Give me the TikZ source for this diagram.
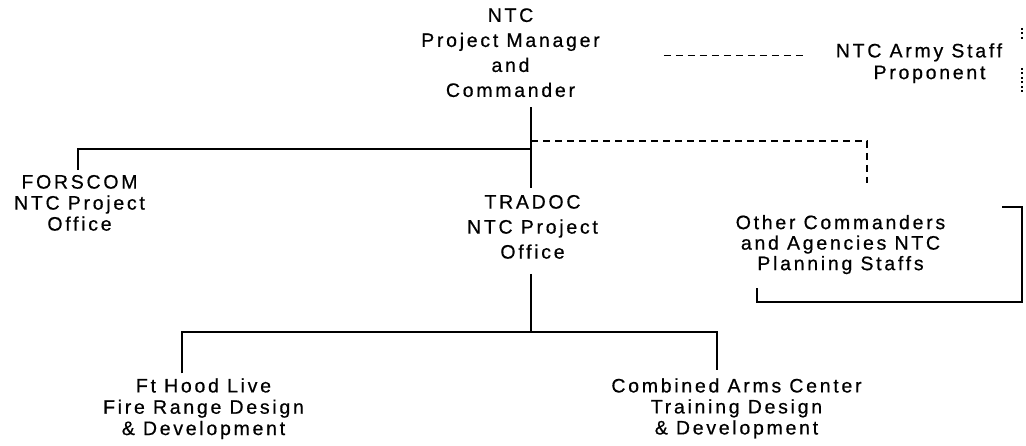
\documentclass[tikz,border=0pt]{standalone}
\usepackage{fontspec}
\newfontfamily\orgfont{Liberation Sans}[LetterSpace=14,FakeBold=0.6]
\usetikzlibrary{calc}
\begin{document}
\begin{tikzpicture}[x=1pt,y=-1pt,
  lbl/.style={font=\orgfont\fontsize{19.5}{#1}\selectfont, align=center, inner sep=0pt, outer sep=0pt, anchor=north},
  solidline/.style={line width=1.8pt},
  dashline/.style={line width=1.4pt, dash pattern=on 7pt off 5pt},
  dotline/.style={line width=1.2pt, dash pattern=on 2pt off 2.5pt},
]
\fill[white] (0,0) rectangle (1026,446);
\useasboundingbox (0,0) rectangle (1026,446);

% nodes
\node[lbl=25] (top) at (510.5,8.3) {NTC\\Project Manager\\and\\Commander};
\node[lbl=25] (tradoc) at (532.5,195) {TRADOC\\NTC Project\\Office};
\node[lbl=21] (forscom) at (79.5,175) {FORSCOM\\NTC Project\\Office};
\node[lbl=20.5] (other) at (840.5,215) {Other Commanders\\and Agencies NTC\\Planning Staffs};
\node[lbl=21.7] (staff) at (919,43.3) {NTC Army Staff\\\hspace*{21pt}Proponent};
\node[lbl=21.3] (fthood) at (203.5,378.3) {Ft Hood Live\\Fire Range Design\\\& Development};
\node[lbl=21] (cac) at (736.5,378.3) {Combined Arms Center\\Training Design\\\& Development};

% junctions
\coordinate (j) at (531,149);
\coordinate (jd) at (531,141);
\coordinate (k) at (531,332);

% upper solid connectors
\draw[solidline] ($(j |- top.south)+(0,10)$) -- ($(j |- tradoc.north)+(0,-7)$);
\draw[solidline] (j) -| ($(forscom.north)+(-1.5,-5)$);

% dashed connector to other commanders
\draw[dashline] (jd) -| ($(other.north)+(26.5,-32)$);

% dashed connector to army staff
\draw[dashline] ($(staff.north west)+(-172,12)$) -- ($(staff.north west)+(-32,12)$);

% right dotted marks
\coordinate (m1) at (1022,28);
\coordinate (m2) at (1022,39);
\coordinate (m3) at (1022,68);
\coordinate (m4) at (1022,94);
\draw[dotline] (m1) -- (m2);
\draw[dotline] (m3) -- (m4);

% bracket around other commanders
\coordinate (b1) at (1002,207);
\coordinate (b2) at (1022,207);
\coordinate (b3) at (1022,302);
\coordinate (b4) at (757,302);
\coordinate (b5) at (757,288);
\draw[line width=1.6pt] (b1) -- (b2) -- (b3) -- (b4) -- (b5);

% lower solid connectors
\draw[solidline] ($(j |- tradoc.south)+(0,15)$) -- (k);
\draw[solidline] ($(fthood.north)+(-21.5,-5)$) |- (k) -| ($(cac.north)+(-19.5,-8)$);
\end{tikzpicture}
\end{document}
